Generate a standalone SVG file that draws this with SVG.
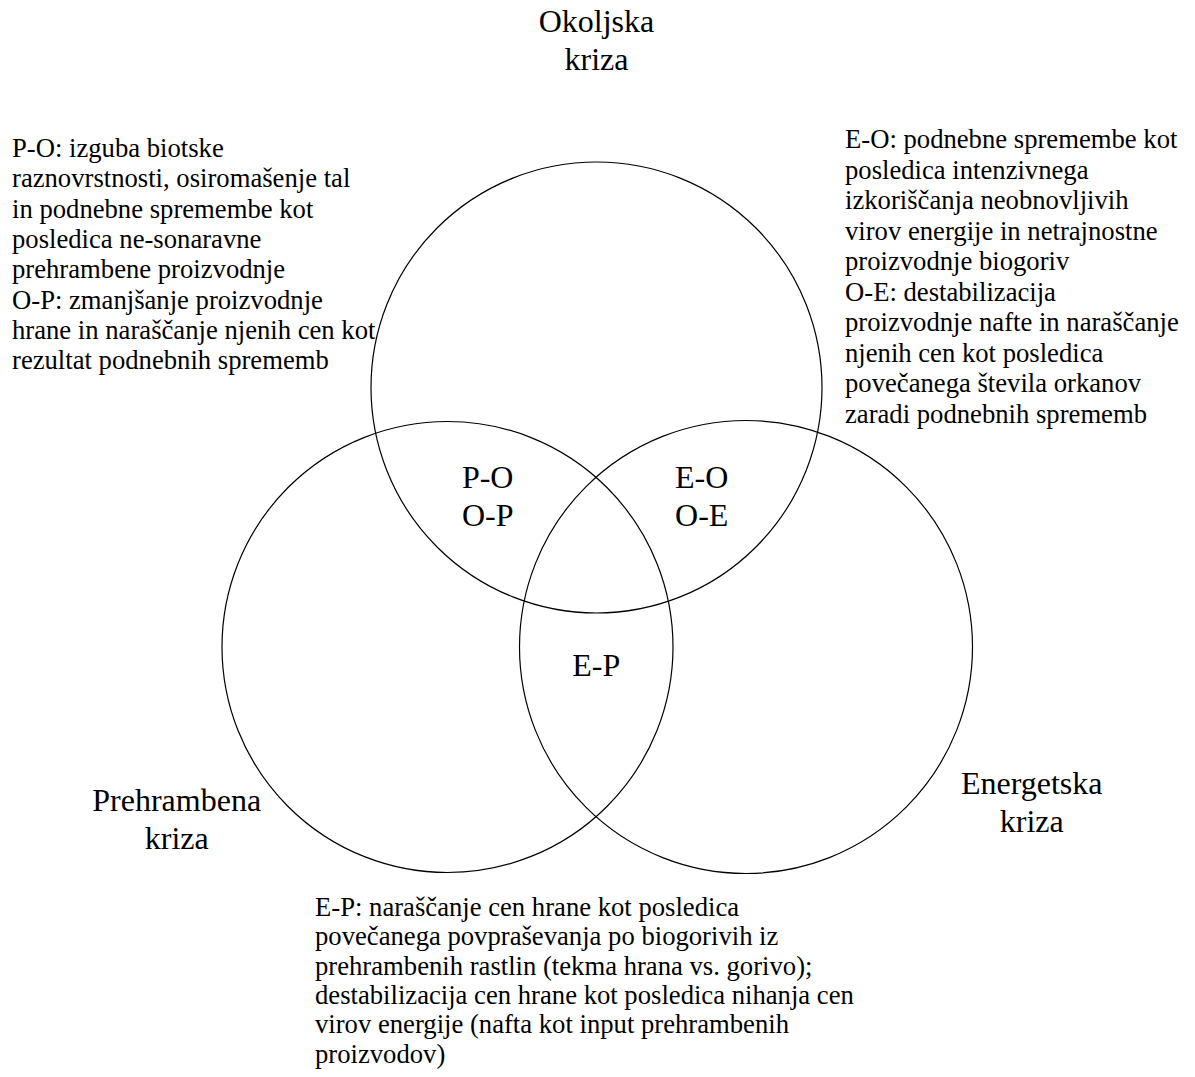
<svg xmlns="http://www.w3.org/2000/svg" width="1195" height="1077" viewBox="0 0 1195 1077">
<style>
.c{fill:none;stroke:#000;stroke-width:1.2}
text{font-family:"Liberation Serif","Times New Roman",serif;fill:#000}
.big{font-size:32px;text-anchor:middle}
.body{font-size:26.67px}
</style>
<rect width="1195" height="1077" fill="#fff"/>
<g id="circles">
<circle id="circle-okoljska" class="c" cx="596.5" cy="387.5" r="225.5"/>
<circle id="circle-prehrambena" class="c" cx="447.5" cy="647" r="225.5"/>
<circle id="circle-energetska" class="c" cx="746" cy="647" r="226.5"/>
</g>
<g id="label-okoljska"><text class="big" x="596.5" y="32">Okoljska</text><text class="big" x="596.5" y="70">kriza</text></g>
<g id="label-prehrambena"><text class="big" x="176.7" y="811">Prehrambena</text><text class="big" x="176.7" y="849">kriza</text></g>
<g id="label-energetska"><text class="big" x="1031.7" y="793.5">Energetska</text><text class="big" x="1031.7" y="831.5">kriza</text></g>
<g id="label-po"><text class="big" x="487.7" y="488">P-O</text><text class="big" x="487.7" y="526">O-P</text></g>
<g id="label-eo"><text class="big" x="701.7" y="488">E-O</text><text class="big" x="701.7" y="526">O-E</text></g>
<g id="label-ep"><text class="big" x="596.3" y="676">E-P</text></g>
<g id="text-po" class="body">
<text x="12" y="157">P-O: izguba biotske</text>
<text x="12" y="187.3">raznovrstnosti, osiromašenje tal</text>
<text x="12" y="217.6">in podnebne spremembe kot</text>
<text x="12" y="247.9">posledica ne-sonaravne</text>
<text x="12" y="278.2">prehrambene proizvodnje</text>
<text x="12" y="308.5">O-P: zmanjšanje proizvodnje</text>
<text x="12" y="338.8">hrane in naraščanje njenih cen kot</text>
<text x="12" y="369.1">rezultat podnebnih sprememb</text>
</g>
<g id="text-eo" class="body">
<text x="845" y="148.3">E-O: podnebne spremembe kot</text>
<text x="845" y="178.8">posledica intenzivnega</text>
<text x="845" y="209.3">izkoriščanja neobnovljivih</text>
<text x="845" y="239.8">virov energije in netrajnostne</text>
<text x="845" y="270.3">proizvodnje biogoriv</text>
<text x="845" y="300.8">O-E: destabilizacija</text>
<text x="845" y="331.3">proizvodnje nafte in naraščanje</text>
<text x="845" y="361.8">njenih cen kot posledica</text>
<text x="845" y="392.3">povečanega števila orkanov</text>
<text x="845" y="422.8">zaradi podnebnih sprememb</text>
</g>
<g id="text-ep" class="body">
<text x="315" y="916">E-P: naraščanje cen hrane kot posledica</text>
<text x="315" y="945.3">povečanega povpraševanja po biogorivih iz</text>
<text x="315" y="974.6">prehrambenih rastlin (tekma hrana vs. gorivo);</text>
<text x="315" y="1003.9">destabilizacija cen hrane kot posledica nihanja cen</text>
<text x="315" y="1033.2">virov energije (nafta kot input prehrambenih</text>
<text x="315" y="1062.5">proizvodov)</text>
</g>
</svg>
